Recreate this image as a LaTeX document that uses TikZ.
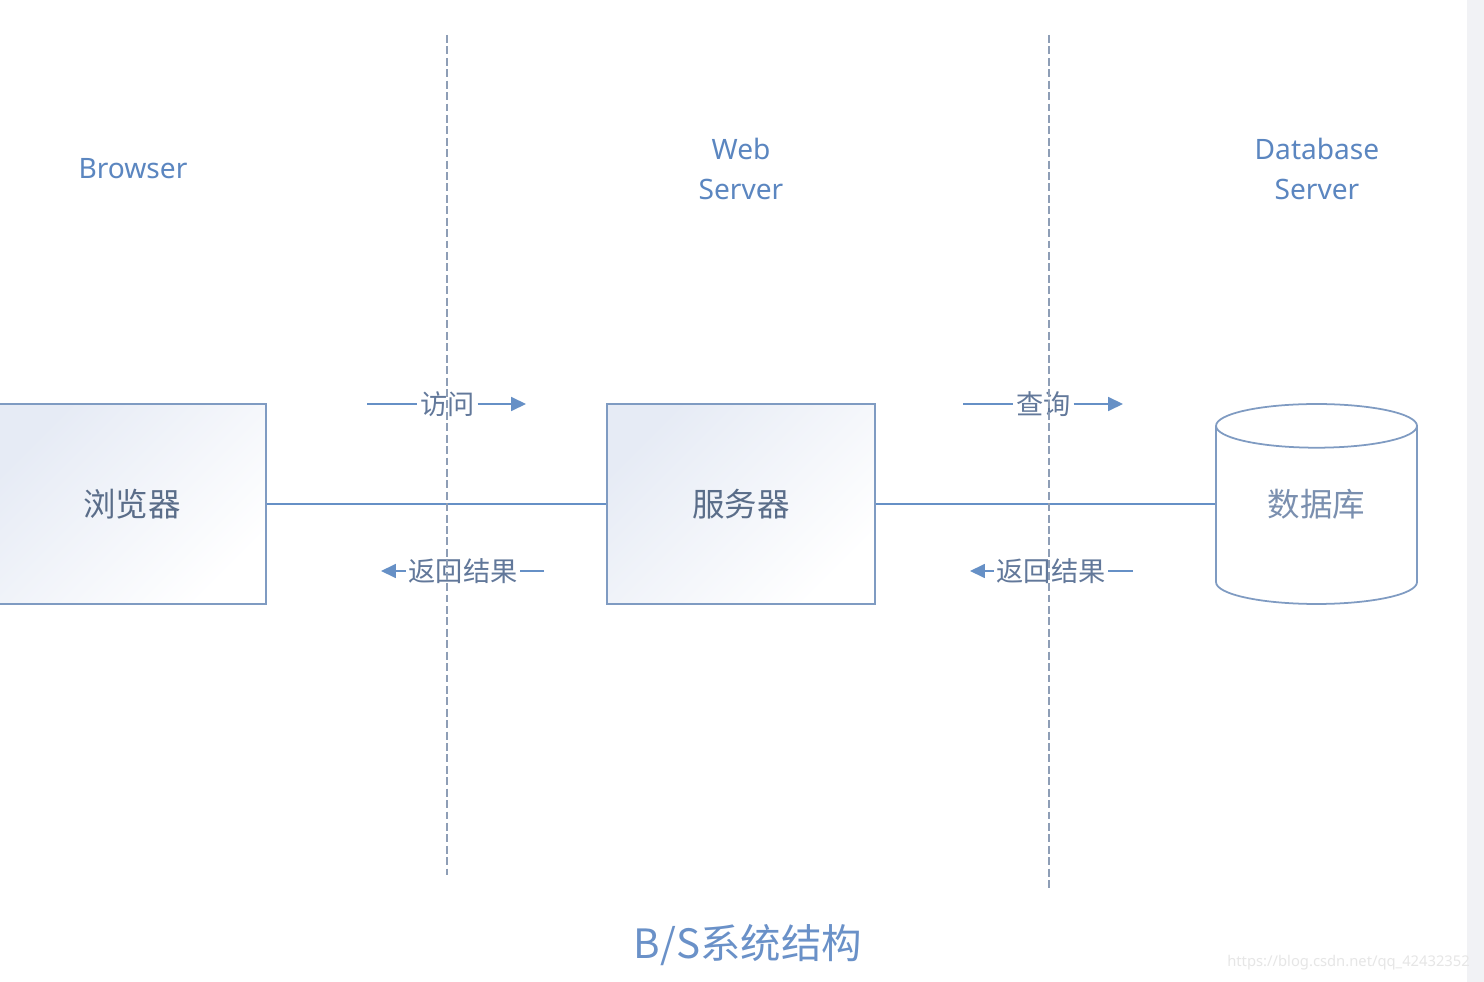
\documentclass[tikz,border=0pt]{standalone}
\usepackage{fontspec}
\setmainfont{Noto Sans}
\newfontfamily\cjk{Noto Sans CJK SC}
\usetikzlibrary{arrows.meta,shapes.geometric}

\definecolor{headblue}{HTML}{5B86C0}
\definecolor{boxline}{HTML}{7F9BC2}
\definecolor{boxfill}{HTML}{E6EBF5}
\definecolor{boxtext}{HTML}{5A6D89}
\definecolor{dbtext}{HTML}{7A8FAF}
\definecolor{linkblue}{HTML}{6690C6}
\definecolor{flowtext}{HTML}{62789A}
\definecolor{tiergray}{HTML}{8E9EB6}
\definecolor{titleblue}{HTML}{6A91C8}
\definecolor{stripgray}{HTML}{F1F2F5}
\definecolor{markgray}{HTML}{E6E6E6}

\tikzset{
  tier/.style={draw=tiergray,line width=1.1pt,dash pattern=on 4.5pt off 2pt},
  link/.style={draw=linkblue,line width=1pt},
  flowline/.style={draw=linkblue,line width=0.8pt},
  flowhead/.style={flowline,-{Triangle[length=8.5pt,width=8pt]}},
  flowlabel/.style={text=flowtext,inner sep=1.5pt,font=\cjk\fontsize{15.5}{18}\selectfont}
}

\begin{document}
\begin{tikzpicture}[x=0.02cm,y=-0.02cm]
   \clip (0,0) rectangle (1484,982);
   \fill[white] (0,0) rectangle (1484,982);
   \fill[stripgray] (1467,0) rectangle (1484,982);
   % tier headings
   \begin{scope}[every node/.style={text=headblue,align=center,font=\fontsize{16}{23}\selectfont}]
    \node (hb) at (133,169) {Browser};
    \node (hw) at (741,169) {Web\\Server};
    \node (hd) at (1317,169) {Database\\Server};
   \end{scope}
   % the three tiers
   \begin{scope}[every node/.style={draw=boxline,line width=1pt,minimum height=4cm,text=boxtext,font=\cjk\fontsize{18.5}{22}\selectfont}]
    \node[rectangle,minimum width=5.36cm,top color=boxfill,bottom color=white,shading angle=45] (br) at (132,504) {浏览器};
    \node[rectangle,minimum width=5.36cm,top color=boxfill,bottom color=white,shading angle=45] (ws) at (741,504) {服务器};
    \node[cylinder,shape border rotate=90,aspect=0.4,minimum width=4.02cm,anchor=shape center,fill=white] (db) at (1316.5,504) {\phantom{数据库}};
   \end{scope}
   \node[text=dbtext,font=\cjk\fontsize{18.5}{22}\selectfont] (dbname) at (db.shape center) {数据库};
   \draw[link] (br) -- (ws);
   \draw[link] (ws.east) -- (ws.east -| db.west);
   % request / response arrows
   \node[flowlabel] (q1) at (447.5,404) {访问};
   \node[flowlabel] (r1) at (463,571) {返回结果};
   \node[flowlabel] (q2) at (1043.5,404) {查询};
   \node[flowlabel] (r2) at (1051,571) {返回结果};
   \coordinate (q1s) at (367,404);
   \coordinate (q1e) at (526,404);
   \coordinate (r1s) at (544,571);
   \coordinate (r1e) at (381,571);
   \coordinate (q2s) at (963,404);
   \coordinate (q2e) at (1123,404);
   \coordinate (r2s) at (1133,571);
   \coordinate (r2e) at (970,571);
   \draw[flowline] (q1s) -- (q1.west);
   \draw[flowhead] (q1.east) -- (q1e);
   \draw[flowline] (r1s) -- (r1.east);
   \draw[flowhead] (r1.west) -- (r1e);
   \draw[flowline] (q2s) -- (q2.west);
   \draw[flowhead] (q2.east) -- (q2e);
   \draw[flowline] (r2s) -- (r2.east);
   \draw[flowhead] (r2.west) -- (r2e);
   % tier borders
   \coordinate (t1a) at (447,35);
   \coordinate (t1b) at (447,875);
   \coordinate (t2a) at (1049,35);
   \coordinate (t2b) at (1049,888);
   \draw[tier] (t1a) -- (t1b);
   \draw[tier] (t2a) -- (t2b);
   \node[text=titleblue,font=\cjk\fontsize{23}{27}\selectfont] (title) at (748,945) {B/S系统结构};
   \node[text=markgray,font=\fontsize{8.4}{10}\selectfont,anchor=east] (mark) at (1476,963) {https://blog.csdn.net/qq\_42432352};
\end{tikzpicture}
\end{document}
